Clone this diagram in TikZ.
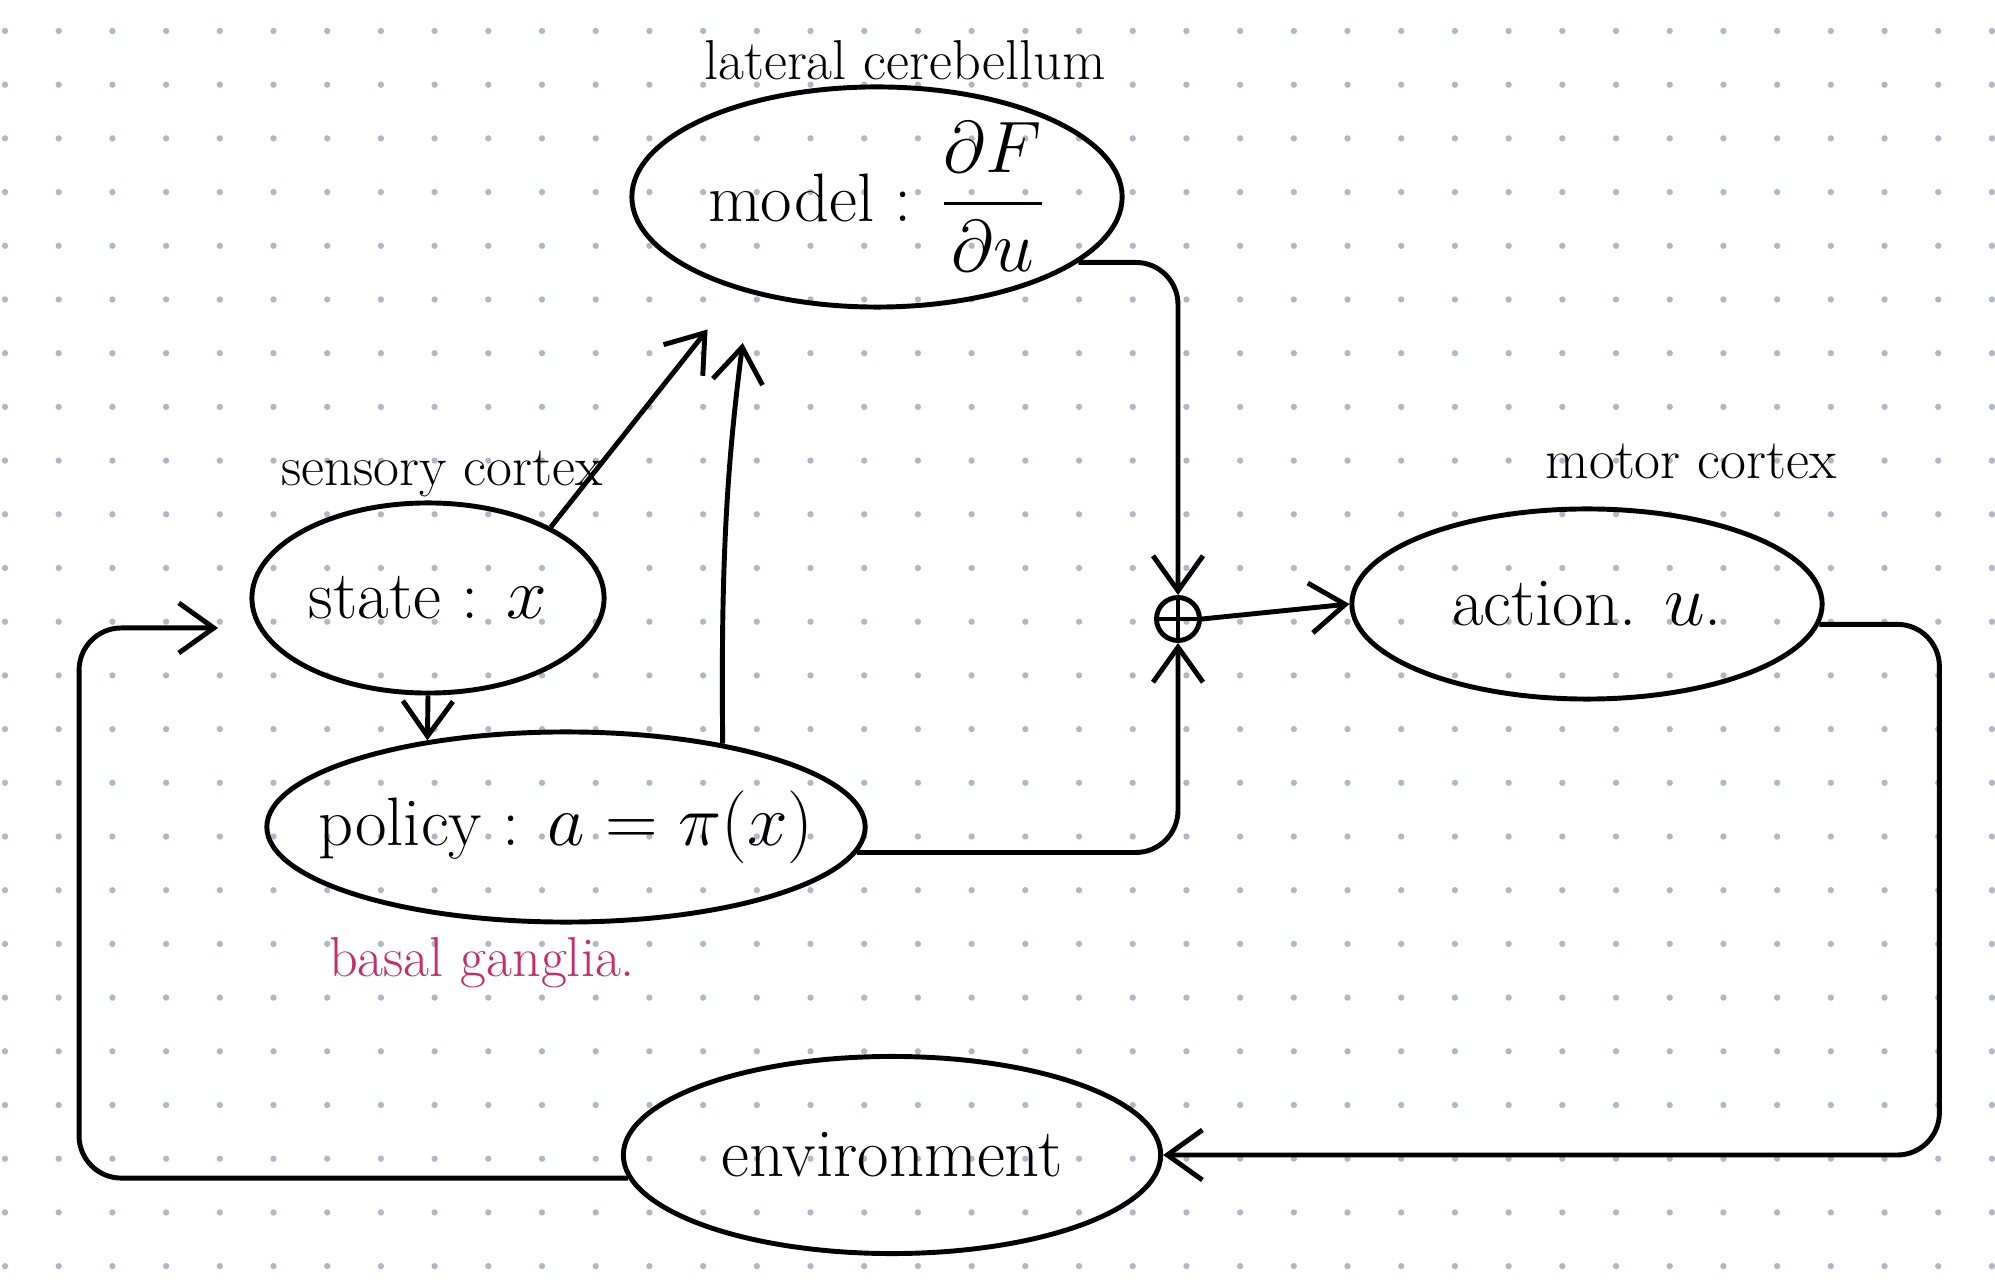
\documentclass[tikz,border=0pt]{standalone}
\usepackage{amsmath, amssymb}
\usepackage{xcolor}
\usepackage{tikz}
\usetikzlibrary{shapes.geometric, arrows.meta, positioning, calc}
\definecolor{dotgray}{RGB}{176,184,200}
\definecolor{ganglia}{RGB}{196,44,108}
\tikzset{
  blob/.style={ellipse, draw, line width=1.4pt, inner xsep=-0.6cm, inner ysep=0pt,
               font=\fontsize{19.5}{23}\selectfont},
  tag/.style={font=\fontsize{16}{19}\selectfont},
  arrow/.style={-{Straight Barb[length=3.5mm, width=5mm]}, line width=1.4pt},
  sumnode/.style={circle, draw, line width=1.4pt, minimum size=0.43cm, inner sep=0pt,
                  path picture={\draw[line width=1.2pt]
                    (path picture bounding box.north) -- (path picture bounding box.south)
                    (path picture bounding box.west) -- (path picture bounding box.east);}},
}

\begin{document}
\begin{tikzpicture}[x=0.01cm, y=-0.01cm]
  \useasboundingbox (0,0) rectangle (1995,1280);

  % Dotted paper
  \foreach \i in {0,...,37}
    \foreach \j in {0,...,23}
      \fill[dotgray] (5+53.7*\i, 31+53.7*\j) circle (0.9pt);

  % Blocks
  \node[blob, minimum width=4.9cm, minimum height=2.2cm] (model) at (877,197)
    {model : $\dfrac{\partial F}{\partial u}$};
  \node[blob, minimum width=3.52cm, minimum height=1.9cm] (state) at (428,598) {state : $x$};
  \node[blob, minimum width=5.98cm, minimum height=1.9cm] (policy) at (566,827)
    {policy : $a = \pi(x)$};
  \node[blob, minimum width=4.7cm, minimum height=1.9cm] (action) at (1587,604) {action. $u$.};
  \node[blob, minimum width=5.37cm, minimum height=1.97cm] (env) at (892,1155) {environment};
  \node[sumnode] (sum) at (1178,619) {};

  % Region labels
  \node[tag] (cerebellum) at (905,60) {lateral cerebellum};
  \node[tag] (sensory) at (442,474) {sensory cortex};
  \node[tag] (motor) at (1691,461) {motor cortex};
  \node[tag, text=ganglia] (ganglia) at (482,963) {basal ganglia.};

  % Connections
  \draw[arrow, rounded corners=12pt] (model.-18) -| (sum.north);
  \draw[arrow, rounded corners=12pt] (policy.-5) -| (sum.south);
  \draw[arrow] (sum.east) -- (action.west);
  \draw[arrow, rounded corners=12pt] (action.-5) -- ++(120,0) |- (env.east);
  \draw[arrow, rounded corners=12pt, shorten >=0.4cm] (env.185) -- ++(-549,0) |- (state.190);
  \draw[arrow] (state.south) -- (policy.148);
  \draw[arrow, shorten >=0.5cm] (state.30) -- (model.-146);
  \draw[arrow, shorten >=0.5cm] (policy.28) to[bend left=4] (model.-143);

\end{tikzpicture}
\end{document}
